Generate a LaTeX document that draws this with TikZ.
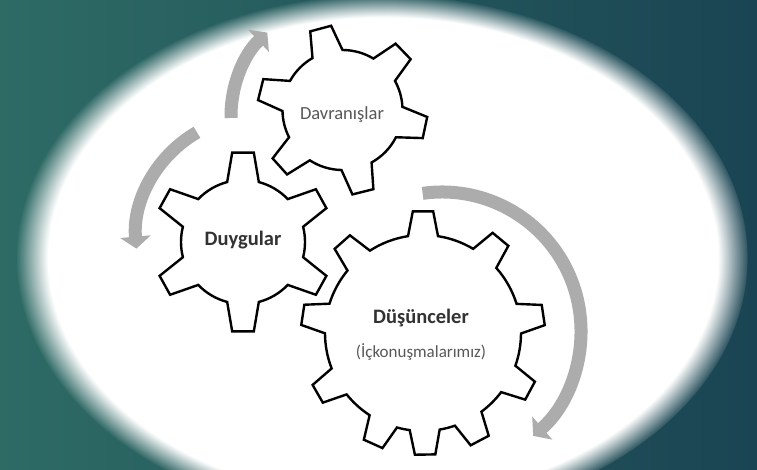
\documentclass[tikz,border=0pt]{standalone}
\usepackage{fontspec}
\setmainfont{Carlito}
\usetikzlibrary{arrows.meta,fadings,calc}
\definecolor{tealL}{RGB}{46,107,101}
\definecolor{tealR}{RGB}{26,68,83}
\definecolor{arrowgray}{RGB}{172,172,172}
\definecolor{labgray}{RGB}{88,88,88}
\definecolor{darktext}{RGB}{50,50,50}
\pgfdeclareradialshading{ellshade}{\pgfpointorigin}{color(0bp)=(pgftransparent!0); color(22.8bp)=(pgftransparent!0); color(25bp)=(pgftransparent!100); color(50bp)=(pgftransparent!100)}
\pgfdeclarefading{ellfade}{\pgfuseshading{ellshade}}
% #1 centre, #2 root radius, #3 outer radius, #4 base half angle, #5 top half angle, #6 first tooth angle, #7 list of angle/next pairs
\newcommand{\gearshape}[7]{%
  \begin{scope}[shift={#1}]
    \draw[gearline] ({#6-#4}:#2)
      \foreach \a/\n in {#7} {
        -- ({\a-#5}:#3) -- ({\a+#5}:#3) -- ({\a+#4}:#2)
        arc[start angle={\a+#4}, end angle={\n-#4}, radius=#2]
      } -- cycle;
  \end{scope}}
\tikzset{
  gearline/.style={draw=black, fill=white, line width=2.4pt, line join=miter},
  cyclearrow/.style={draw=arrowgray, line width=13pt, -{Triangle[width=30pt,length=12pt]}},
  biglabel/.style={font=\bfseries\fontsize{20.5}{24}\selectfont, text=darktext, inner sep=0pt},
  smalllabel/.style={font=\fontsize{18.5}{21}\selectfont, text=labgray, inner sep=0pt},
  sublabel/.style={font=\fontsize{17}{19}\selectfont, text=labgray, inner sep=0pt}
}
\begin{document}
\begin{tikzpicture}[x=1pt,y=1pt]
\useasboundingbox (0,0) rectangle (757,-469);
\fill[left color=tealL, right color=tealR] (0,0) rectangle (757,-469);
\fill[white, path fading=ellfade, fit fading=true] (383,-258) ellipse [x radius=366, y radius=263];

% arrows
\coordinate (c1) at (345,-116);
\coordinate (c2) at (258,-238);
\coordinate (c3) at (442,-331);
\coordinate (a1s) at ($(c1)+(181:114)$);
\coordinate (a2s) at ($(c2)+(120:122)$);
\coordinate (a3s) at ($(c3)+(98:139)$);
\draw[cyclearrow] (a1s) arc[start angle=181, end angle=133, radius=114];
\draw[cyclearrow] (a2s) arc[start angle=120, end angle=185, radius=122];
\draw[cyclearrow] (a3s) arc[start angle=98, end angle=-49, radius=139];

% gears
\gearshape{(342.5,-110)}{60}{85}{15}{7.3}{-138}{-138/-76,-76/-12,-12/44,44/105,105/166,166/222}
\gearshape{(243,-242)}{62}{90}{14.8}{6.9}{-151}{-151/-90,-90/-29,-29/29,29/90,90/151,151/209}
\gearshape{(423,-333)}{98}{122}{8.8}{4.8}{-150}{-150/-114.2,-114.2/-89,-89/-62.2,-62.2/-28.3,-28.3/8.5,8.5/50.4,50.4/90,90/131.6,131.6/171.4,171.4/210}

% labels
\node[smalllabel] (dav) at (342,-115) {Davranışlar};
\node[biglabel] (duy) at (243,-240) {Duygular};
\node[biglabel] (dus) at (421,-318) {Düşünceler};
\node[sublabel] (ic) at (421,-352) {(İçkonuşmalarımız)};
\end{tikzpicture}
\end{document}
